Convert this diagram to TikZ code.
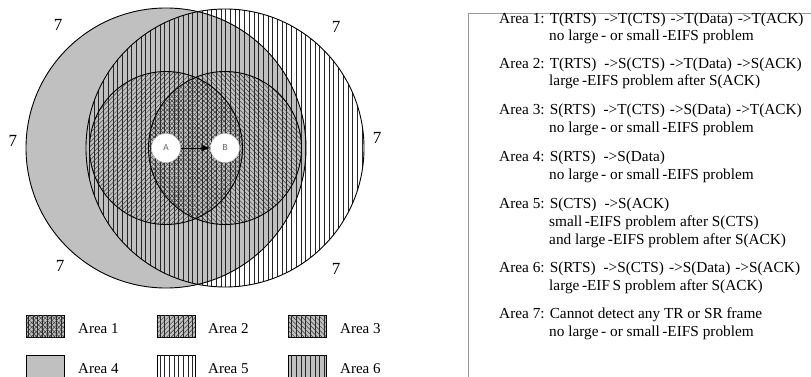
\documentclass[tikz,border=0pt]{standalone}
\usepackage{fontspec}
\setmainfont{Liberation Serif}
\newfontfamily\nodefont{Liberation Mono}
\usetikzlibrary{patterns.meta,arrows.meta}
\definecolor{areagray}{RGB}{192,192,192}
\tikzset{
  vlines/.style={pattern={Lines[angle=90,distance=4.7pt,line width=0.6pt]},pattern color=black!85},
  nelines/.style={pattern={Lines[angle=45,distance=3.2pt,line width=0.45pt]},pattern color=black!80},
  nwlines/.style={pattern={Lines[angle=-45,distance=3.2pt,line width=0.45pt]},pattern color=black!80},
  rim/.style={draw=black,line width=0.9pt},
  seven/.style={font=\fontsize{17}{17}\selectfont},
  station/.style={circle,fill=white,draw=gray!50,line width=0.4pt,minimum size=29pt,inner sep=0pt,text=gray!80!black,font=\nodefont\fontsize{9}{9}\selectfont},
  legbox/.style={draw=black,line width=1pt,minimum width=38pt,minimum height=22pt,inner sep=0pt},
  a1/.style={legbox,fill=areagray,postaction={vlines},postaction={nelines},postaction={nwlines}},
  a2/.style={legbox,fill=areagray,postaction={vlines},postaction={nelines}},
  a3/.style={legbox,fill=areagray,postaction={vlines},postaction={nwlines}},
  a4/.style={legbox,fill=areagray},
  a5/.style={legbox,fill=white,postaction={vlines}},
  a6/.style={legbox,fill=areagray,postaction={vlines}},
  legtext/.style={anchor=base west,inner sep=0pt,font=\fontsize{15}{15}\selectfont},
  desc/.style={anchor=base west,inner sep=0pt,font=\fontsize{15.3}{15.3}\selectfont},
  frame/.style={draw=gray!80,line width=1pt}
}
\newcommand{\gapA}{\hspace{8pt}}
\newcommand{\gapB}{\hspace{5pt}}
\begin{document}
\begin{tikzpicture}[x=1pt,y=-1pt]
\useasboundingbox (0,0) rectangle (811,377);
\coordinate (cA) at (166,148);
\coordinate (cB) at (225,148);
% fills
\fill[areagray] (cA) circle[radius=140pt];
\path[vlines] (cB) circle[radius=139pt];
\path[nelines] (cA) circle[radius=76.5pt];
\path[nwlines] (cB) circle[radius=76.5pt];
% outlines
\draw[rim] (cA) circle[radius=140pt];
\draw[rim] (cB) circle[radius=139pt];
\draw[rim] (cA) circle[radius=76.5pt];
\draw[rim] (cB) circle[radius=76.5pt];
% stations
\node[station] (A) at (cA) {A};
\node[station] (B) at (cB) {B};
\draw[line width=0.9pt,-{Latex[length=9pt,width=7pt]}] (A) -- (B);
% area 7 labels
\node[seven] (s1) at (58,25) {7};
\node[seven] (s2) at (336,27) {7};
\node[seven] (s3) at (13,141) {7};
\node[seven] (s4) at (377,138) {7};
\node[seven] (s5) at (60,266) {7};
\node[seven] (s6) at (336,269) {7};
% legend
\node[a1] (l1) at (45,326) {};
\node[a2] (l2) at (176,326) {};
\node[a3] (l3) at (307,326) {};
\node[a4] (l4) at (45,366) {};
\node[a5] (l5) at (176,366) {};
\node[a6] (l6) at (307,366) {};
\node[legtext] (t1) at (78,333) {Area 1};
\node[legtext] (t2) at (208,333) {Area 2};
\node[legtext] (t3) at (340,333) {Area 3};
\node[legtext] (t4) at (78,373) {Area 4};
\node[legtext] (t5) at (208,373) {Area 5};
\node[legtext] (t6) at (340,373) {Area 6};
% right panel
\coordinate (f0) at (468,377);
\coordinate (f1) at (468,14);
\coordinate (f2) at (811,14);
\draw[frame] (f0) -- (f1) -- (f2);
\node[desc] (d1a) at (499,24) {Area 1: T(RTS)\gapA->T(CTS)\gapB->T(Data)\gapB->T(ACK)};
\node[desc] (d1b) at (549,41) {no large\,- or small\,-EIFS problem};
\node[desc] (d2a) at (499,69) {Area 2: T(RTS)\gapA->S(CTS)\gapB->T(Data)\gapB->S(ACK)};
\node[desc] (d2b) at (549,86) {large\,-EIFS problem after S(ACK)};
\node[desc] (d3a) at (499,115) {Area 3: S(RTS)\gapA->T(CTS)\gapB->S(Data)\gapB->T(ACK)};
\node[desc] (d3b) at (549,132) {no large\,- or small\,-EIFS problem};
\node[desc] (d4a) at (499,161) {Area 4: S(RTS)\gapA->S(Data)};
\node[desc] (d4b) at (549,179) {no large\,- or small\,-EIFS problem};
\node[desc] (d5a) at (499,208) {Area 5: S(CTS)\gapA->S(ACK)};
\node[desc] (d5b) at (549,226) {small\,-EIFS problem after S(CTS)};
\node[desc] (d5c) at (549,244) {and large\,-EIFS problem after S(ACK)};
\node[desc] (d6a) at (499,272) {Area 6: S(RTS)\gapA->S(CTS)\gapB->S(Data)\gapB->S(ACK)};
\node[desc] (d6b) at (549,290) {large\,-EIF\,S problem after S(ACK)};
\node[desc] (d7a) at (499,318) {Area 7: Cannot detect any TR or SR frame};
\node[desc] (d7b) at (549,336) {no large\,- or small\,-EIFS problem};
\end{tikzpicture}
\end{document}
